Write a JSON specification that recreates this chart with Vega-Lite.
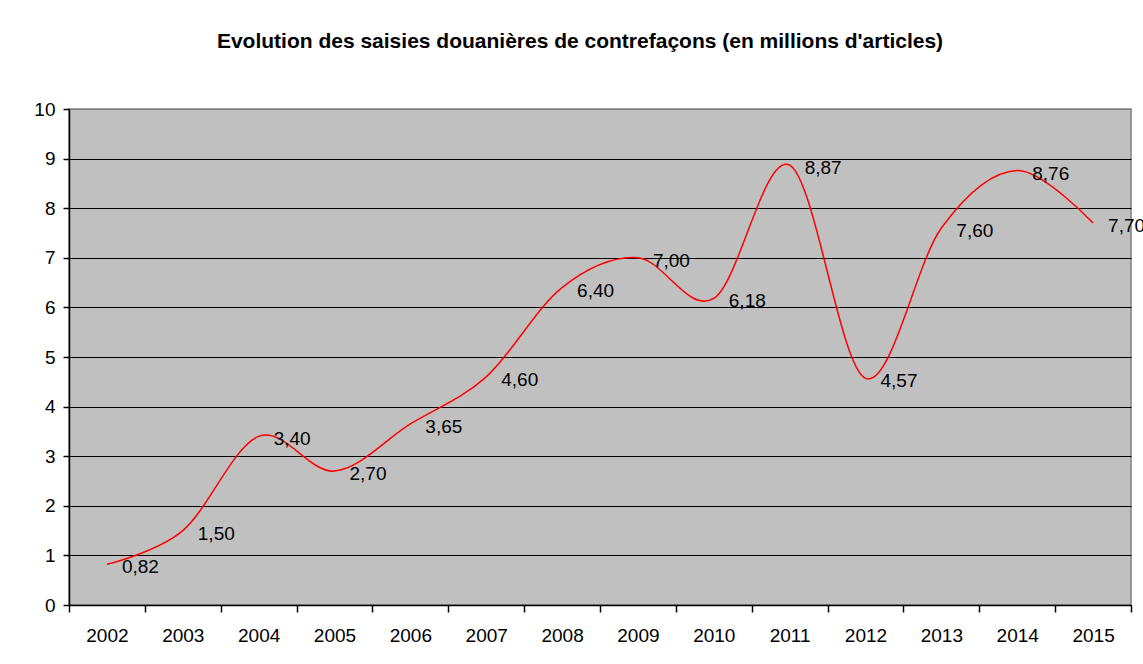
{
  "$schema": "https://vega.github.io/schema/vega-lite/v6.json",
  "autosize": {"type": "none"},
  "padding": {"left": 69, "top": 109, "right": 12, "bottom": 59},
  "width": 1062,
  "height": 496,
  "background": "white",
  "config": {
    "font": "Liberation Sans",
    "locale": {"number": {"decimal": ",", "thousands": " ", "grouping": [3], "currency": ["", " €"]}},
    "view": {"fill": "#C0C0C0", "stroke": "#808080", "strokeWidth": 1.5}
  },
  "title": {
    "text": "Evolution des saisies douanières de contrefaçons (en millions d'articles)",
    "font": "Liberation Sans",
    "fontSize": 21,
    "fontWeight": "bold",
    "color": "black",
    "anchor": "middle",
    "baseline": "alphabetic",
    "offset": 31,
    "dx": -20
  },
  "data": {
    "values": [
      {"annee": "2002", "valeur": 0.82},
      {"annee": "2003", "valeur": 1.50},
      {"annee": "2004", "valeur": 3.40},
      {"annee": "2005", "valeur": 2.70},
      {"annee": "2006", "valeur": 3.65},
      {"annee": "2007", "valeur": 4.60},
      {"annee": "2008", "valeur": 6.40},
      {"annee": "2009", "valeur": 7.00},
      {"annee": "2010", "valeur": 6.18},
      {"annee": "2011", "valeur": 8.87},
      {"annee": "2012", "valeur": 4.57},
      {"annee": "2013", "valeur": 7.60},
      {"annee": "2014", "valeur": 8.76},
      {"annee": "2015", "valeur": 7.70}
    ]
  },
  "encoding": {
    "x": {
      "field": "annee",
      "type": "ordinal",
      "scale": {"type": "band", "paddingInner": 0, "paddingOuter": 0},
      "axis": {
        "title": null,
        "labelAngle": 0,
        "labelFont": "Liberation Sans",
        "labelFontSize": 19,
        "labelColor": "black",
        "labelPadding": 14,
        "tickBand": "extent",
        "tickSize": 7,
        "tickColor": "black",
        "tickWidth": 1.5,
        "domainColor": "black",
        "domainWidth": 1.5,
        "grid": false
      }
    },
    "y": {
      "field": "valeur",
      "type": "quantitative",
      "scale": {"domain": [0, 10], "nice": false},
      "axis": {
        "title": null,
        "values": [0, 1, 2, 3, 4, 5, 6, 7, 8, 9, 10],
        "labelFont": "Liberation Sans",
        "labelFontSize": 19,
        "labelColor": "black",
        "labelPadding": 8,
        "tickSize": 6,
        "tickColor": "black",
        "tickWidth": 1.5,
        "domainColor": "black",
        "domainWidth": 1.5,
        "grid": true,
        "gridColor": {"condition": {"test": "datum.value === 10", "value": "#808080"}, "value": "black"},
        "gridWidth": 1.2
      }
    }
  },
  "layer": [
    {
      "mark": {"type": "line", "color": "#FF0000", "strokeWidth": 1.5, "interpolate": "cardinal", "tension": 0}
    },
    {
      "mark": {"type": "text", "align": "left", "baseline": "middle", "dx": 15, "dy": 3, "fontSize": 19, "font": "Liberation Sans", "color": "black"},
      "encoding": {"text": {"field": "valeur", "type": "quantitative", "format": ".2f"}}
    }
  ]
}
